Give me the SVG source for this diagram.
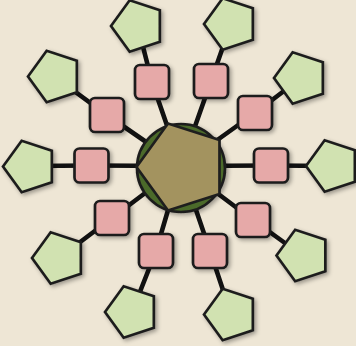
<svg xmlns="http://www.w3.org/2000/svg" width="356" height="346" viewBox="0 0 356 346">
<defs>
<style>
.bg{fill:#eee6d5}
.ln{stroke:#111;stroke-width:4.6;stroke-linecap:round}
.sq{fill:#e6a9a8;stroke:#1e1e1e;stroke-width:2.7;filter:url(#sh)}
.pg{fill:#d1e2b1;stroke:#1e1e1e;stroke-width:2.7;filter:url(#sh)}
.hub{fill:#4b6a2a;stroke:#1e1e1e;stroke-width:2.7;filter:url(#sh)}
.hubp{fill:#a3935f;stroke:#1e1e1e;stroke-width:2.7}
</style>
<filter id="sh" x="-30%" y="-30%" width="160%" height="160%">
<feDropShadow dx="2" dy="2" stdDeviation="2" flood-color="#000" flood-opacity="0.35"/>
</filter>
<polygon id="p" points="-27,0 -8.34,-25.68 21.84,-15.87 21.84,15.87 -8.34,25.68"/>
</defs>
<rect class="bg" x="0" y="0" width="356" height="346"/>
<g id="connectors">
<polyline class="ln" fill="none" points="181,166 152,82 138,27"/>
<polyline class="ln" fill="none" points="181,166 211,81 231,24"/>
<polyline class="ln" fill="none" points="181,166 107,115 55,77"/>
<polyline class="ln" fill="none" points="181,166 255,113 301,78"/>
<polyline class="ln" fill="none" points="181,166 91.5,165.5 30,166"/>
<polyline class="ln" fill="none" points="181,166 271,165.5 333,166"/>
<polyline class="ln" fill="none" points="181,166 112,218 59,258"/>
<polyline class="ln" fill="none" points="181,166 253,220 303,256"/>
<polyline class="ln" fill="none" points="181,166 156,251 132,312"/>
<polyline class="ln" fill="none" points="181,166 210,251 231,314"/>
</g>
<g id="hub">
<circle class="hub" cx="181" cy="168" r="44"/>
<polygon class="hubp" points="136.5,167 168,123.5 219.5,140 219.5,194 168,210.5"/>
</g>
<g id="sq1"><rect class="sq" x="135" y="65" width="34" height="34" rx="5"/></g>
<g id="sq2"><rect class="sq" x="194" y="64" width="34" height="34" rx="5"/></g>
<g id="sq3"><rect class="sq" x="90" y="98" width="34" height="34" rx="5"/></g>
<g id="sq4"><rect class="sq" x="238" y="96" width="34" height="34" rx="5"/></g>
<g id="sq5"><rect class="sq" x="74.5" y="148.5" width="34" height="34" rx="5"/></g>
<g id="sq6"><rect class="sq" x="254" y="148.5" width="34" height="34" rx="5"/></g>
<g id="sq7"><rect class="sq" x="95" y="201" width="34" height="34" rx="5"/></g>
<g id="sq8"><rect class="sq" x="236" y="203" width="34" height="34" rx="5"/></g>
<g id="sq9"><rect class="sq" x="139" y="234" width="34" height="34" rx="5"/></g>
<g id="sq10"><rect class="sq" x="193" y="234" width="34" height="34" rx="5"/></g>
<g id="pg1"><use class="pg" href="#p" x="138" y="26"/></g>
<g id="pg2"><use class="pg" href="#p" x="231" y="24"/></g>
<g id="pg3"><use class="pg" href="#p" x="55" y="76.5"/></g>
<g id="pg4"><use class="pg" href="#p" x="301" y="78"/></g>
<g id="pg5"><use class="pg" href="#p" x="30" y="166.5"/></g>
<g id="pg6"><use class="pg" href="#p" x="333" y="166"/></g>
<g id="pg7"><use class="pg" href="#p" x="59" y="258"/></g>
<g id="pg8"><use class="pg" href="#p" x="303.5" y="255.5"/></g>
<g id="pg9"><use class="pg" href="#p" x="132" y="312"/></g>
<g id="pg10"><use class="pg" href="#p" x="231" y="314.5"/></g>
</svg>
